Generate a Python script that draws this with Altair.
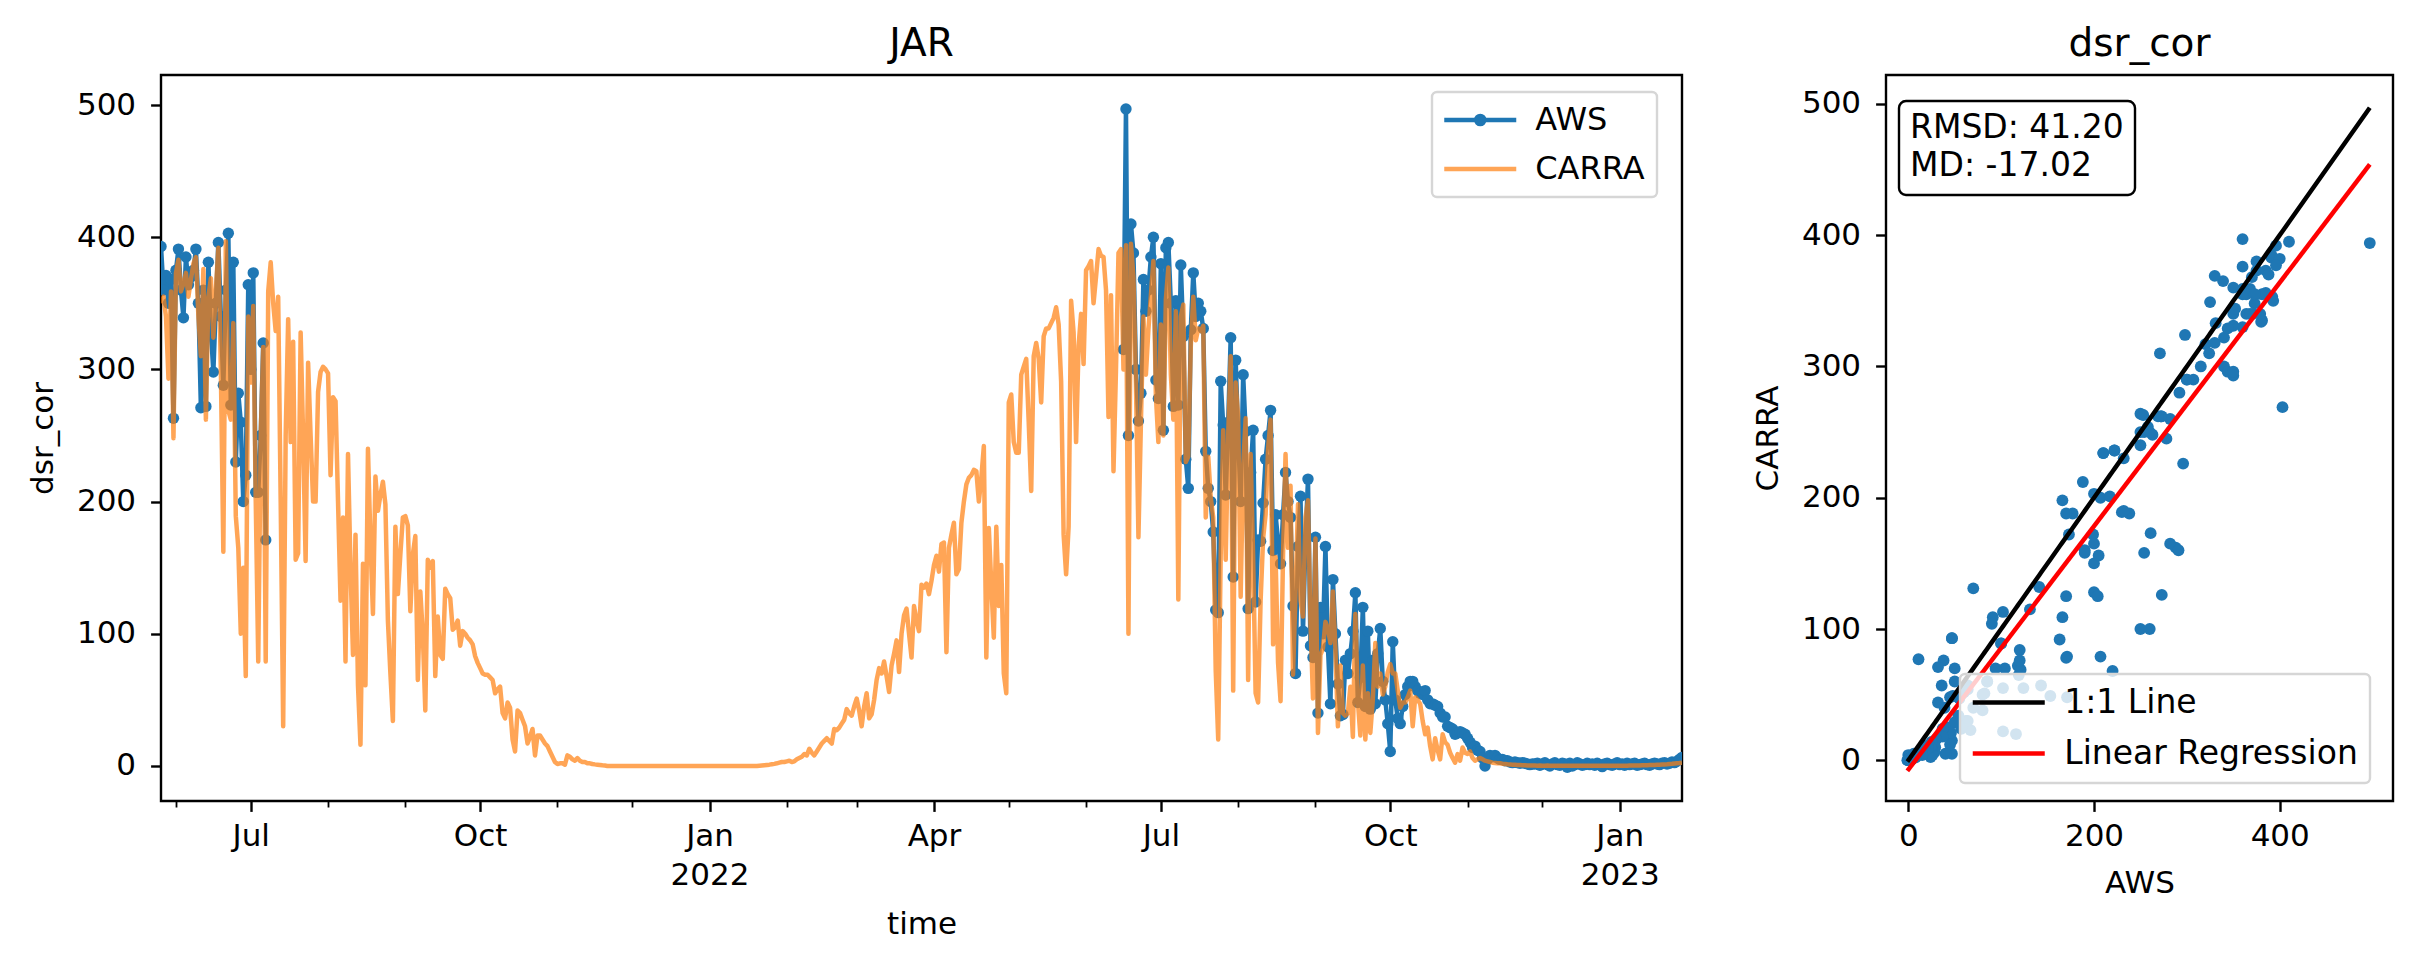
import altair as alt
import pandas as pd

FONT = "DejaVu Sans"
BLUE = "#1f77b4"
ORANGE = "#ff7f0e"
ORANGE_KEY = "#ffa556"  # the orange line at alpha 0.7 over white, as in the legend

# ---- values (dsr_cor, daily) ----
# CARRA, one value per day from 2021-05-26 to 2023-01-26
carra_start = "2021-05-26"
carra_p00 = [350, 355, 340, 293, 359, 248, 373, 383, 359, 365, 373, 355, 368]
carra_p01 = [380, 385, 340, 310, 376, 262, 355, 369, 324, 360, 392, 300,
             162, 397, 269, 262, 335, 189, 165, 100, 150, 68, 340, 290]
carra_p02 = [348, 200, 79, 250, 317, 79, 359, 381, 350, 329, 355, 200,
             30, 250, 338, 245, 321, 156, 161, 328, 250, 155, 305, 250]
carra_p03 = [200, 200, 283, 298, 302, 300, 297, 220, 279, 276, 200, 125,
             188, 79, 236, 150, 84, 175, 61, 16, 153, 61, 240, 170]
carra_p04 = [115, 219, 193, 205, 215, 198, 110, 70, 34, 181, 130, 160,
             188, 189, 182, 117, 160, 174, 65, 132, 100, 42, 156, 150]
carra_p05 = [155, 68, 113, 84, 81, 134, 130, 127, 103, 105, 110, 91,
             102, 100, 97, 95, 92, 83, 78, 74, 70, 69, 69, 67]
carra_p06 = [65, 55, 58, 60, 40, 36, 48, 44, 20, 11, 42, 40,
             35, 30, 17, 22, 28, 8, 23, 23, 20, 17, 15, 11]
carra_p07 = [7, 3, 1.5, 2, 2, 1, 8, 7, 5, 4, 6, 4,
             3, 3, 2, 2, 1.5, 1.2, 1, 0.8, 0.5, 0.3, 0, 0]
carra_p08 = [0, 0, 0, 0, 0, 0, 0, 0, 0, 0, 0, 0,
             0, 0, 0, 0, 0, 0, 0, 0, 0, 0, 0, 0]
carra_p09 = [0, 0, 0, 0, 0, 0, 0, 0, 0, 0, 0, 0,
             0, 0, 0, 0, 0, 0, 0, 0, 0, 0, 0, 0]
carra_p10 = [0, 0, 0, 0, 0, 0, 0, 0, 0, 0, 0, 0.2,
             0.4, 0.6, 0.8, 1, 1.3, 1.6, 2, 2.5, 3, 3, 3.5, 4]
carra_p11 = [3, 3.5, 5, 6, 7, 9, 8, 13, 10, 8, 11, 14,
             17, 19, 21, 19, 17, 28, 27, 29, 32, 35, 43, 40]
carra_p12 = [38, 45, 51, 42, 30, 45, 55, 36, 39, 50, 65, 74,
             70, 79, 68, 56, 76, 85, 95, 71, 100, 114, 119, 100]
carra_p13 = [82, 121, 110, 102, 137, 135, 138, 130, 140, 152, 159, 147,
             168, 169, 86, 165, 175, 184, 145, 149, 184, 200, 213, 218]
carra_p14 = [220, 224, 223, 200, 218, 242, 82, 180, 137, 97, 181, 121,
             152, 70, 55, 275, 281, 245, 237, 237, 296, 302, 308, 260]
carra_p15 = [208, 310, 320, 308, 275, 325, 331, 331, 335, 339, 347, 334,
             291, 175, 145, 181, 352, 328, 245, 318, 342, 304, 375, 378]
carra_p16 = [382, 350, 370, 391, 386, 385, 360, 264, 356, 223, 300, 388,
             391, 300, 394, 100, 395, 370, 290, 173, 260, 340, 296, 330]
carra_p17 = [356, 382, 280, 245, 334, 250, 353, 377, 296, 262, 344, 126,
             340, 349, 230, 234, 318, 355, 322, 331, 329, 333, 188, 234]
carra_p18 = [203, 188, 72, 20, 160, 254, 156, 250, 310, 57, 290, 264,
             128, 226, 263, 65, 236, 158, 55, 48, 125, 172, 190, 240]
carra_p19 = [262, 92, 158, 78, 49, 160, 236, 165, 212, 69, 131, 198,
             125, 113, 188, 201, 109, 51, 172, 25, 84, 89, 109, 104]
carra_p20 = [93, 132, 89, 30, 76, 40, 38, 40, 60, 22,
             115, 49, 23, 76, 20, 55, 25, 50, 93, 60,
             70, 54, 60, 71, 77, 70, 70, 57, 44, 48,
             48, 52, 57, 30, 52, 50, 47, 34, 24, 29,
             15, 5, 21, 12, 5, 24, 18, 16, 10, 6,
             2.5, 9, 4, 14, 10, 9, 11, 6, 4, 5,
             6, 5, 4, 3.5, 3, 2.5, 2.3, 2, 2, 1.7,
             1.5, 1.3, 1.2, 1, 0.9, 0.8, 0.7, 0.6, 0.5, 0.4,
             0.4, 0.3]
carra_p21 = [0.3, 0.2, 0.3, 0.2, 0.2, 0.3, 0.2, 0.1, 0.2, 0.2,
             0.1, 0.1, 0.2, 0.1, 0.1, 0.1, 0.1, 0.1, 0.1, 0.1,
             0.1, 0.1, 0.1, 0.1, 0.1, 0.1, 0.1, 0.1, 0.1, 0.1,
             0.1, 0.1, 0.1, 0.1, 0.1, 0.2, 0.2, 0.2, 0.3, 0.3,
             0.3, 0.4, 0.4, 0.5, 0.5, 0.6, 0.7, 0.8, 0.8, 0.9,
             1, 1.1, 1.2, 1.3, 1.5, 1.6, 1.8, 2, 2.2, 2.5]

# AWS, first stretch from 2021-05-26, second stretch from 2022-06-16
aws_2021 = [393, 360, 371, 350, 368, 263, 375, 391, 360, 339, 385, 364, 370,
            375, 391, 350, 271, 360, 272, 381, 330, 298, 350, 396, 340,
            288, 360, 403, 273, 381, 230, 282, 260, 200, 220, 364, 300,
            373, 207, 207, 250, 320, 171]
aws_2022_start = "2022-06-16"
aws_2022_jun = [315, 497, 250, 410, 388, 300, 261, 282, 368, 344, 360]
aws_2022_jul = [385, 400, 292, 278, 380, 254, 392, 396, 350, 272, 352, 273,
                379, 325, 232, 210, 330, 373, 340, 350, 344, 331, 238, 210]
aws_2022_aug = [200, 177, 118, 116, 291, 258, 205, 260, 324, 143, 307, 250,
                200, 296, 253, 119, 222, 254, 124, 171, 170, 199, 232, 250]
aws_2022_sep = [269, 163, 190, 170, 153, 190, 222, 200, 188, 121, 70, 166,
                204, 102, 170, 217, 91, 82, 173, 40, 120, 100, 166, 90]
aws_2022_oct = [47, 141, 100, 62, 38, 39, 80, 70, 85, 102,
                131, 48, 67, 120, 45, 102, 43, 80, 47, 85,
                104, 64, 50, 32, 11, 94, 50, 36, 32, 45,
                54, 60, 64, 64, 60, 57, 55, 54, 57, 50,
                47, 47, 46, 45, 40, 37, 37, 30, 29, 28,
                24, 25, 26, 25, 24, 21, 18, 14, 15, 12,
                11, 6, 0, 5, 8, 7, 8, 6, 5, 5,
                4, 4, 3, 2.5, 3, 2.5, 2, 2.5, 2, 1.5,
                1, 1.5]
aws_2022_dec = [1.5, 2, 0.5, 1.5, 2.5, 1, 0, 1.5, 2.5, 1,
                0.5, 2, 1.5, -1, 2, 0, 1, 2.5, 1.5, 0.5,
                1, 2, 1, 1.5, 0.5, 2, 1, -0.5, 1.5, 2,
                1, 0.5, 1.5, 2.5, 1, 1.5, 0.5, 2, 1, 1.5,
                2, 0.5, 1, 1.5, 2, 1, 0.5, 1.5, 2, 1.5,
                1, 2, 2.5, 1.5, 2, 3, 2.5, 3.5, 5, 6.5]

series_names = ["AWS", "CARRA"]
line_names = ["1:1 Line", "Linear Regression"]
stat_labels = ["RMSD: 41.20", "MD: -17.02"]
month_ticks = pd.date_range("2021-06-01", "2023-01-01", freq="MS")
y_ticks = [0, 100, 200, 300, 400, 500]
x_ticks_scatter = [0, 200, 400]

# ---- tables ----
carra = (carra_p00 + carra_p01 + carra_p02 + carra_p03 + carra_p04 + carra_p05
         + carra_p06 + carra_p07 + carra_p08 + carra_p09 + carra_p10 + carra_p11
         + carra_p12 + carra_p13 + carra_p14 + carra_p15 + carra_p16 + carra_p17
         + carra_p18 + carra_p19 + carra_p20 + carra_p21)
aws_2022 = (aws_2022_jun + aws_2022_jul + aws_2022_aug + aws_2022_sep
            + aws_2022_oct + aws_2022_dec)

carra_df = pd.DataFrame({
    "time": pd.date_range(carra_start, periods=len(carra), freq="D"),
    "CARRA": carra,
})
aws_df = pd.concat([
    pd.DataFrame({"time": pd.date_range(carra_start, periods=len(aws_2021), freq="D"),
                  "AWS": aws_2021, "seg": 1}),
    pd.DataFrame({"time": pd.date_range(aws_2022_start, periods=len(aws_2022), freq="D"),
                  "AWS": aws_2022, "seg": 2}),
], ignore_index=True)
pairs = aws_df.merge(carra_df, on="time")
series_df = pd.DataFrame({"series": series_names})
stats_df = pd.DataFrame({"box": ["stats"]})

# legend keys: a line, and a line with a filled dot for AWS
LINE_KEY = "M-4,0H4"
AWS_KEY = ("M-4,0H4M-0.21,0A0.21,0.21,0,1,0,0.21,0A0.21,0.21,0,1,0,-0.21,0"
           "M-0.455,0A0.455,0.455,0,1,0,0.455,0A0.455,0.455,0,1,0,-0.455,0")

def key_legend(x, y, size=32):
    return alt.Legend(orient="none", legendX=x, legendY=y, title=None,
                      labelFont=FONT, labelFontSize=size, labelColor="black", labelLimit=600,
                      symbolSize=324, symbolStrokeWidth=4.5, symbolOffset=20.25,
                      labelOffset=39, symbolType=LINE_KEY, padding=12, rowPadding=17,
                      fillColor="rgba(255,255,255,0.8)", strokeColor="#d6d6d6",
                      cornerRadius=5)

# ---- left: time series ----
is_major = "month(datum.value) % 3 == 0"
time_axis = alt.Axis(
    values=[alt.DateTime(year=t.year, month=t.month, date=1) for t in month_ticks],
    labelExpr=(f"{is_major} ? (month(datum.value) == 0 ? "
               "[timeFormat(datum.value, '%b'), timeFormat(datum.value, '%Y')] : "
               "timeFormat(datum.value, '%b')) : ''"),
    tickSize={"condition": {"test": is_major, "value": 10.4}, "value": 6},
    tickWidth={"condition": {"test": is_major, "value": 2.4}, "value": 1.8},
    labelOverlap=False, labelFlush=False, labelLineHeight=39,
    labelPadding=10.4, titlePadding=19,
)
x_time = alt.X("time:T", title="time", axis=time_axis,
               scale=alt.Scale(domain=[alt.DateTime(year=2021, month=5, date=26),
                                       alt.DateTime(year=2023, month=1, date=26)]))

def y_left(field):
    return alt.Y(field, title="dsr_cor",
                 scale=alt.Scale(domain=[-26.5, 522.7], nice=False, zero=False),
                 axis=alt.Axis(values=y_ticks, labelPadding=15, titlePadding=17))

aws_line = alt.Chart(aws_df).mark_line(
    color=BLUE, strokeWidth=4.5, strokeJoin="round", clip=True
).encode(x_time, y_left("AWS:Q"), detail="seg:N")
aws_pts = alt.Chart(aws_df).mark_circle(
    color=BLUE, size=130, opacity=1, clip=True
).encode(x_time, y_left("AWS:Q"))
carra_line = alt.Chart(carra_df).mark_line(
    color=ORANGE, opacity=0.7, strokeWidth=4.5, strokeJoin="round", clip=True
).encode(x_time, y_left("CARRA:Q"))

series_legend = key_legend(1271, 17)
series_key = alt.Chart(series_df).transform_filter("false").mark_point(
    filled=False, opacity=1, strokeWidth=4.5
).encode(
    color=alt.Color("series:N", legend=series_legend,
                    scale=alt.Scale(domain=series_names, range=[BLUE, ORANGE_KEY])),
    shape=alt.Shape("series:N", legend=series_legend,
                    scale=alt.Scale(domain=series_names, range=[AWS_KEY, LINE_KEY])),
)

left = alt.layer(aws_line, aws_pts, carra_line, series_key).properties(
    width=1521, height=726,
    title=alt.TitleParams("JAR", baseline="alphabetic", offset=-20),
)

# ---- right: scatter ----
x_sc = alt.X("AWS:Q", title="AWS",
             scale=alt.Scale(domain=[-24, 522], nice=False, zero=False),
             axis=alt.Axis(values=x_ticks_scatter, labelPadding=10.4, titlePadding=17))

def y_sc(field):
    return alt.Y(field, title="CARRA",
                 scale=alt.Scale(domain=[-31, 522], nice=False, zero=False),
                 axis=alt.Axis(values=y_ticks, labelPadding=15, titlePadding=17))

line_color = alt.Color("kind:N", legend=key_legend(74, 599, size=33),
                       scale=alt.Scale(domain=line_names, range=["black", "red"]))

base = alt.Chart(pairs)
scatter_pts = base.mark_circle(color=BLUE, size=140, opacity=1).encode(x_sc, y_sc("CARRA:Q"))
one_to_one = base.transform_calculate(kind="'1:1 Line'").mark_line(
    strokeWidth=4.5
).encode(x_sc, y_sc("AWS:Q"), color=line_color)
regression = base.transform_regression("AWS", "CARRA").transform_calculate(
    kind="'Linear Regression'"
).mark_line(strokeWidth=4.5).encode(x_sc, y_sc("CARRA:Q"), color=line_color)

# the RMSD / MD box, drawn as a framed legend whose title carries the two lines
stats_key = alt.Chart(stats_df).transform_filter("false").mark_point(opacity=1).encode(
    shape=alt.Shape("box:N",
                    scale=alt.Scale(domain=["stats"], range=["M0,0"]),
                    legend=alt.Legend(orient="none", legendX=13, legendY=26,
                                      title=stat_labels, titleFont=FONT, titleFontSize=33,
                                      titleFontWeight="normal", titleColor="black",
                                      titleLineHeight=38, titlePadding=0, titleLimit=600,
                                      labelExpr="''", labelFontSize=1, symbolSize=0,
                                      symbolStrokeWidth=0, padding=11,
                                      fillColor="white", strokeColor="black",
                                      cornerRadius=7)),
)

right = alt.layer(scatter_pts, one_to_one, regression, stats_key).properties(
    width=507, height=726,
    title=alt.TitleParams("dsr_cor", baseline="alphabetic", offset=-20),
)

chart = alt.hconcat(left, right, spacing=67).resolve_scale(
    color="independent", shape="independent"
).resolve_legend(
    color="independent", shape="independent"
).properties(
    padding={"left": 18, "top": 15, "right": 5, "bottom": 5}
).configure(
    font=FONT
).configure_view(
    stroke="black", strokeWidth=2.4
).configure_axis(
    domain=False, grid=False, tickColor="black", tickWidth=2.4, tickSize=10.4,
    labelFont=FONT, labelFontSize=31, labelColor="black",
    titleFont=FONT, titleFontSize=31, titleFontWeight="normal", titleColor="black",
).configure_title(
    font=FONT, fontSize=39, fontWeight="normal", color="black", anchor="middle"
).configure_legend(
    strokeWidth=2.4
)

chart.save("out.html", embed_options={"renderer": "svg", "actions": False})
